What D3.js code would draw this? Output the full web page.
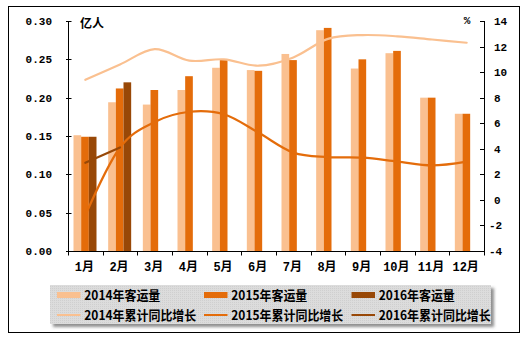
<!DOCTYPE html>
<html>
<head>
<meta charset="utf-8">
<script src="https://cdn.jsdelivr.net/npm/d3@7"></script>
<style>
  html, body { margin: 0; padding: 0; background: #fff; }
  svg { display: block; }
</style>
</head>
<body>
<svg id="chart" width="527" height="340"></svg>
<script>
// ---- data ----
const months = ['1月','2月','3月','4月','5月','6月','7月','8月','9月','10月','11月','12月'];
const pass2014 = [0.151,0.194,0.191,0.210,0.239,0.236,0.257,0.288,0.238,0.258,0.200,0.179];
const pass2015 = [0.149,0.212,0.210,0.228,0.249,0.235,0.249,0.291,0.250,0.261,0.200,0.179];
const pass2016 = [0.149,0.220];
const growth2014 = [9.4,10.6,11.8,10.9,11.0,10.5,11.15,12.6,12.9,12.8,12.55,12.3];
const growth2015 = [-1.2,4.1,6.1,6.9,6.7,5.25,3.7,3.35,3.3,3.0,2.7,3.0];
const growth2016 = [2.9,4.1];
const leftTicks = [0,0.05,0.10,0.15,0.20,0.25,0.30];
const rightTicks = [-4,-2,0,2,4,6,8,10,12,14];
const barSeries = ['2014','2015','2016'];
const leftUnit = '亿人';
const rightUnit = '%';
const legendItems = [
  {label:'2014年客运量', type:'bar', key:'b2014'},
  {label:'2015年客运量', type:'bar', key:'b2015'},
  {label:'2016年客运量', type:'bar', key:'b2016'},
  {label:'2014年累计同比增长', type:'line', key:'l2014'},
  {label:'2015年累计同比增长', type:'line', key:'l2015'},
  {label:'2016年累计同比增长', type:'line', key:'l2016'}
];

const colors = {
  b2014:'#FAC090', b2015:'#E46C0A', b2016:'#984807',
  l2014:'#FAC090', l2015:'#E46C0A', l2016:'#984807'
};

const svg = d3.select('#chart');
const numFont = '"Liberation Mono", "DejaVu Sans Mono", monospace';
const cjkFont = '"Liberation Mono", "Noto Sans CJK SC", sans-serif';

// outer border
svg.append('rect').attr('x',8.5).attr('y',6.5).attr('width',511).attr('height',326)
  .attr('fill','#fff').attr('stroke','#000').attr('stroke-width',1);

const plot = {left:68, right:484, top:21, bottom:251};

const x = d3.scaleBand().domain(months).range([plot.left, plot.right]).paddingInner(0).paddingOuter(0);
const x1 = d3.scaleBand().domain(barSeries).range([5.5, 28.5]);
const yL = d3.scaleLinear().domain([0,0.30]).range([plot.bottom, plot.top]);
const yR = d3.scaleLinear().domain([-4,14]).range([plot.bottom, plot.top]);

// bars
const barData = [];
months.forEach((m,i)=>{
  barData.push({m, s:'2014', v:pass2014[i], c:colors.b2014});
  barData.push({m, s:'2015', v:pass2015[i], c:colors.b2015});
  if (i < pass2016.length) barData.push({m, s:'2016', v:pass2016[i], c:colors.b2016});
});
svg.append('g').selectAll('rect').data(barData).join('rect')
  .attr('x', d => x(d.m) + x1(d.s))
  .attr('width', x1.bandwidth())
  .attr('y', d => yL(d.v))
  .attr('height', d => yL(0) - yL(d.v))
  .attr('fill', d => d.c);

// lines
const cx = m => x(m) + x.bandwidth()/2;
const line = d3.line().x(d => cx(d.m)).y(d => yR(d.v)).curve(d3.curveCatmullRom.alpha(0));
const lineSets = [
  {vals:growth2014, c:colors.l2014},
  {vals:growth2015, c:colors.l2015},
  {vals:growth2016, c:colors.l2016}
];
lineSets.forEach(ls=>{
  const pts = ls.vals.map((v,i)=>({m:months[i], v}));
  svg.append('path').datum(pts).attr('d', line)
    .attr('fill','none').attr('stroke', ls.c).attr('stroke-width',2.2)
    .attr('stroke-linejoin','round').attr('stroke-linecap','round');
});

// left axis
const axL = svg.append('g');
axL.append('line').attr('x1',plot.left+0.5).attr('x2',plot.left+0.5)
  .attr('y1',plot.top).attr('y2',plot.bottom+0.5).attr('stroke','#000');
axL.selectAll('line.t').data(leftTicks).join('line').attr('class','t')
  .attr('x1',plot.left-2).attr('x2',plot.left+3.5)
  .attr('y1',d=>Math.round(yL(d))+0.5).attr('y2',d=>Math.round(yL(d))+0.5).attr('stroke','#000');
axL.selectAll('text').data(leftTicks).join('text')
  .attr('x',52).attr('y',d=>yL(d)).attr('dy','0.36em')
  .attr('text-anchor','end')
  .style('font-family',numFont).style('font-weight','bold').style('font-size','11px')
  .text(d=>d3.format('.2f')(d));

// right axis
const axR = svg.append('g');
axR.append('line').attr('x1',plot.right+0.5).attr('x2',plot.right+0.5)
  .attr('y1',plot.top).attr('y2',plot.bottom+0.5).attr('stroke','#000');
axR.selectAll('line.t').data(rightTicks).join('line').attr('class','t')
  .attr('x1',plot.right-4).attr('x2',plot.right+0.5)
  .attr('y1',d=>Math.round(yR(d))+0.5).attr('y2',d=>Math.round(yR(d))+0.5).attr('stroke','#000');
axR.selectAll('text').data(rightTicks).join('text')
  .attr('x',d=> d<0 ? 489 : 494).attr('y',d=>yR(d)).attr('dy','0.36em')
  .attr('text-anchor','start')
  .style('font-family',numFont).style('font-weight','bold').style('font-size','11px')
  .text(d=>String(d).replace('-','-'));

// x axis
const axX = svg.append('g');
axX.append('line').attr('x1',plot.left).attr('x2',plot.right+0.5)
  .attr('y1',plot.bottom+0.5).attr('y2',plot.bottom+0.5).attr('stroke','#000');
const bounds = months.map(m=>x(m)).concat([plot.right]);
axX.selectAll('line.t').data(bounds).join('line').attr('class','t')
  .attr('x1',d=>Math.round(d)+0.5).attr('x2',d=>Math.round(d)+0.5)
  .attr('y1',plot.bottom).attr('y2',plot.bottom+4.5).attr('stroke','#000');
axX.selectAll('text').data(months).join('text')
  .attr('x',d=>cx(d)-1).attr('y',267).attr('dy','0.36em')
  .attr('text-anchor','middle')
  .style('font-family',cjkFont).style('font-weight','bold').style('font-size','12px')
  .text(d=>d);

// unit labels
svg.append('text').attr('x',80).attr('y',23.5).attr('dy','0.36em')
  .style('font-family','"Noto Sans CJK SC", sans-serif').style('font-weight','bold').style('font-size','12px')
  .text(leftUnit);
svg.append('text').attr('x',467).attr('y',20.5).attr('dy','0.36em').attr('text-anchor','middle')
  .style('font-family',numFont).style('font-weight','bold').style('font-size','11px')
  .text(rightUnit);

// legend
const defs = svg.append('defs');
const f = defs.append('filter').attr('id','shadow').attr('x','-10%').attr('y','-20%').attr('width','120%').attr('height','160%');
f.append('feDropShadow').attr('dx',3).attr('dy',3).attr('stdDeviation',1.5)
  .attr('flood-color','#555').attr('flood-opacity',0.65);
const pat = defs.append('pattern').attr('id','dots').attr('width',2).attr('height',2).attr('patternUnits','userSpaceOnUse');
pat.append('rect').attr('width',2).attr('height',2).attr('fill','#DCDCDC');
pat.append('rect').attr('width',1).attr('height',1).attr('fill','#CFCFCF');

const lg = svg.append('g');
lg.append('rect').attr('x',50).attr('y',285).attr('width',441).attr('height',39)
  .attr('fill','#D8D8D8').attr('filter','url(#shadow)');
lg.append('rect').attr('x',50).attr('y',285).attr('width',441).attr('height',39)
  .attr('fill','url(#dots)');

const colX = [57, 204, 351.5];
const rowY = [295, 315];
legendItems.forEach((it,i)=>{
  const col = i % 3, row = Math.floor(i/3);
  const sx = colX[col], sy = rowY[row];
  if (it.type === 'bar') {
    lg.append('rect').attr('x',sx).attr('y',sy-3).attr('width',23.5).attr('height',6).attr('fill',colors[it.key]);
  } else {
    lg.append('line').attr('x1',sx).attr('x2',sx+23.5).attr('y1',sy).attr('y2',sy)
      .attr('stroke',colors[it.key]).attr('stroke-width',2);
  }
  lg.append('text').attr('x',sx+27.3).attr('y',sy).attr('dy','0.36em')
    .attr('textLength', row===0 ? 76 : 112).attr('lengthAdjust','spacingAndGlyphs')
    .style('font-family','"Noto Sans CJK SC", sans-serif').style('font-weight','bold').style('font-size','13px')
    .text(it.label);
});
</script>
</body>
</html>
